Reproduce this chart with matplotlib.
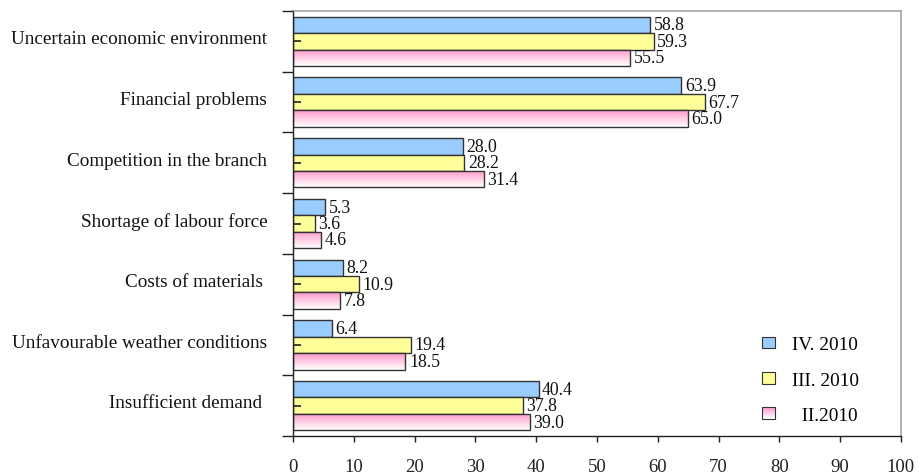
import numpy as np
import matplotlib
matplotlib.use("Agg")
import matplotlib.pyplot as plt
from matplotlib.patches import Patch, Rectangle
from matplotlib.colors import LinearSegmentedColormap
from matplotlib.legend_handler import HandlerBase

plt.rcParams['font.family'] = ['Liberation Serif', 'DejaVu Serif']

categories = [
    "Uncertain economic environment",
    "Financial problems",
    "Competition in the branch",
    "Shortage of labour force",
    "Costs of materials ",
    "Unfavourable weather conditions",
    "Insufficient demand ",
]
series_names = ["IV. 2010", "III. 2010", "  II.2010"]
q4_2010 = [58.8, 63.9, 28.0, 5.3, 8.2, 6.4, 40.4]
q3_2010 = [59.3, 67.7, 28.2, 3.6, 10.9, 19.4, 37.8]
q2_2010 = [55.5, 65.0, 31.4, 4.6, 7.8, 18.5, 39.0]
x_ticks = list(range(0, 101, 10))

blue = "#99CCFF"
yellow = "#FFFF99"
pink = "#FF99CC"
edge = "#333333"

pink_cmap = LinearSegmentedColormap.from_list("pinkfade", [pink, "#FFFFFF"])


class GradientHandler(HandlerBase):
    """Legend key filled with a top-to-bottom pink-to-white fade."""

    def create_artists(self, legend, orig_handle, xdescent, ydescent, width, height,
                       fontsize, trans):
        n = 12
        artists = []
        for i in range(n):
            frac = i / (n - 1)
            artists.append(Rectangle((-xdescent, -ydescent + height * (1 - (i + 1) / n)),
                                     width, height / n, facecolor=pink_cmap(frac),
                                     edgecolor="none", transform=trans))
        artists.append(Rectangle((-xdescent, -ydescent), width, height, facecolor="none",
                                 edgecolor=edge, linewidth=0.8, transform=trans))
        return artists


fig = plt.figure(figsize=(9.2, 4.77), dpi=100)
ax = fig.add_axes([0.3185, 0.0839, 0.9793 - 0.3185, 0.9748 - 0.0839])
ax.set_axisbelow(False)

y = np.arange(len(categories))
h = 0.27

ax.barh(y - h, q4_2010, height=h, color=blue, edgecolor=edge, linewidth=1.0, zorder=2)
ax.barh(y, q3_2010, height=h, color=yellow, edgecolor=edge, linewidth=1.0, zorder=2)
pink_bars = ax.barh(y + h, q2_2010, height=h, color="none", edgecolor=edge,
                    linewidth=1.0, zorder=2.2)

# vertical pink-to-white fill inside each bar of the last series
grad = np.linspace(0, 1, 64).reshape(-1, 1)
for bar in pink_bars:
    x0, y0 = bar.get_x(), bar.get_y()
    w, hh = bar.get_width(), bar.get_height()
    im = ax.imshow(grad, cmap=pink_cmap, aspect="auto", interpolation="bilinear",
                   extent=(x0, x0 + w, y0 + hh, y0), origin="upper", zorder=2.1)
    im.set_clip_path(bar)
ax.set_xlim(0, 100)
ax.set_ylim(len(categories) - 0.5, -0.5)

# value labels
for vals, off in ((q4_2010, -h), (q3_2010, 0), (q2_2010, h)):
    for yi, v in zip(y, vals):
        ax.annotate(f"{v:.1f}", (v, yi + off), xytext=(2.5, 0), textcoords="offset points",
                    ha="left", va="center", fontsize=12.8, color="#111111", zorder=5)

# category labels, a little above each group's centre
for yi, name in zip(y, categories):
    ax.annotate(name, (0, yi), xycoords=("axes fraction", "data"), xytext=(-18.5, 2.0),
                textcoords="offset points", ha="right", va="center", fontsize=13.8,
                color="#111111", annotation_clip=False)

# axes styling
for s in ("top", "right"):
    ax.spines[s].set_color("#A6A6A6")
    ax.spines[s].set_linewidth(1.2)
for s in ("left", "bottom"):
    ax.spines[s].set_color("#222222")
    ax.spines[s].set_linewidth(1.0)

ax.set_xticks(x_ticks)
ax.set_xticklabels([str(t) for t in x_ticks], fontsize=13.5)
ax.tick_params(axis="x", direction="out", length=4.5, width=1.0, pad=11.5, colors="#222222")

ax.set_yticks(np.arange(-0.5, len(categories), 1.0))
ax.set_yticklabels([])
ax.set_yticks(y, minor=True)
ax.set_yticklabels([], minor=True)
ax.tick_params(axis="y", which="major", direction="out", length=8, width=1.0, color="#222222")
ax.tick_params(axis="y", which="minor", direction="in", length=6, width=1.2, color="#222222")

pink_key = Patch(facecolor=pink, edgecolor=edge)
handles = [Patch(facecolor=blue, edgecolor=edge, linewidth=0.8),
           Patch(facecolor=yellow, edgecolor=edge, linewidth=0.8),
           pink_key]
ax.legend(handles, series_names, loc="lower left", bbox_to_anchor=(0.743, -0.012),
          frameon=False, fontsize=13.9, handlelength=0.65, handleheight=0.55,
          handletextpad=0.9, labelspacing=0.94,
          handler_map={pink_key: GradientHandler()})

fig.savefig("out.png", dpi=100)
